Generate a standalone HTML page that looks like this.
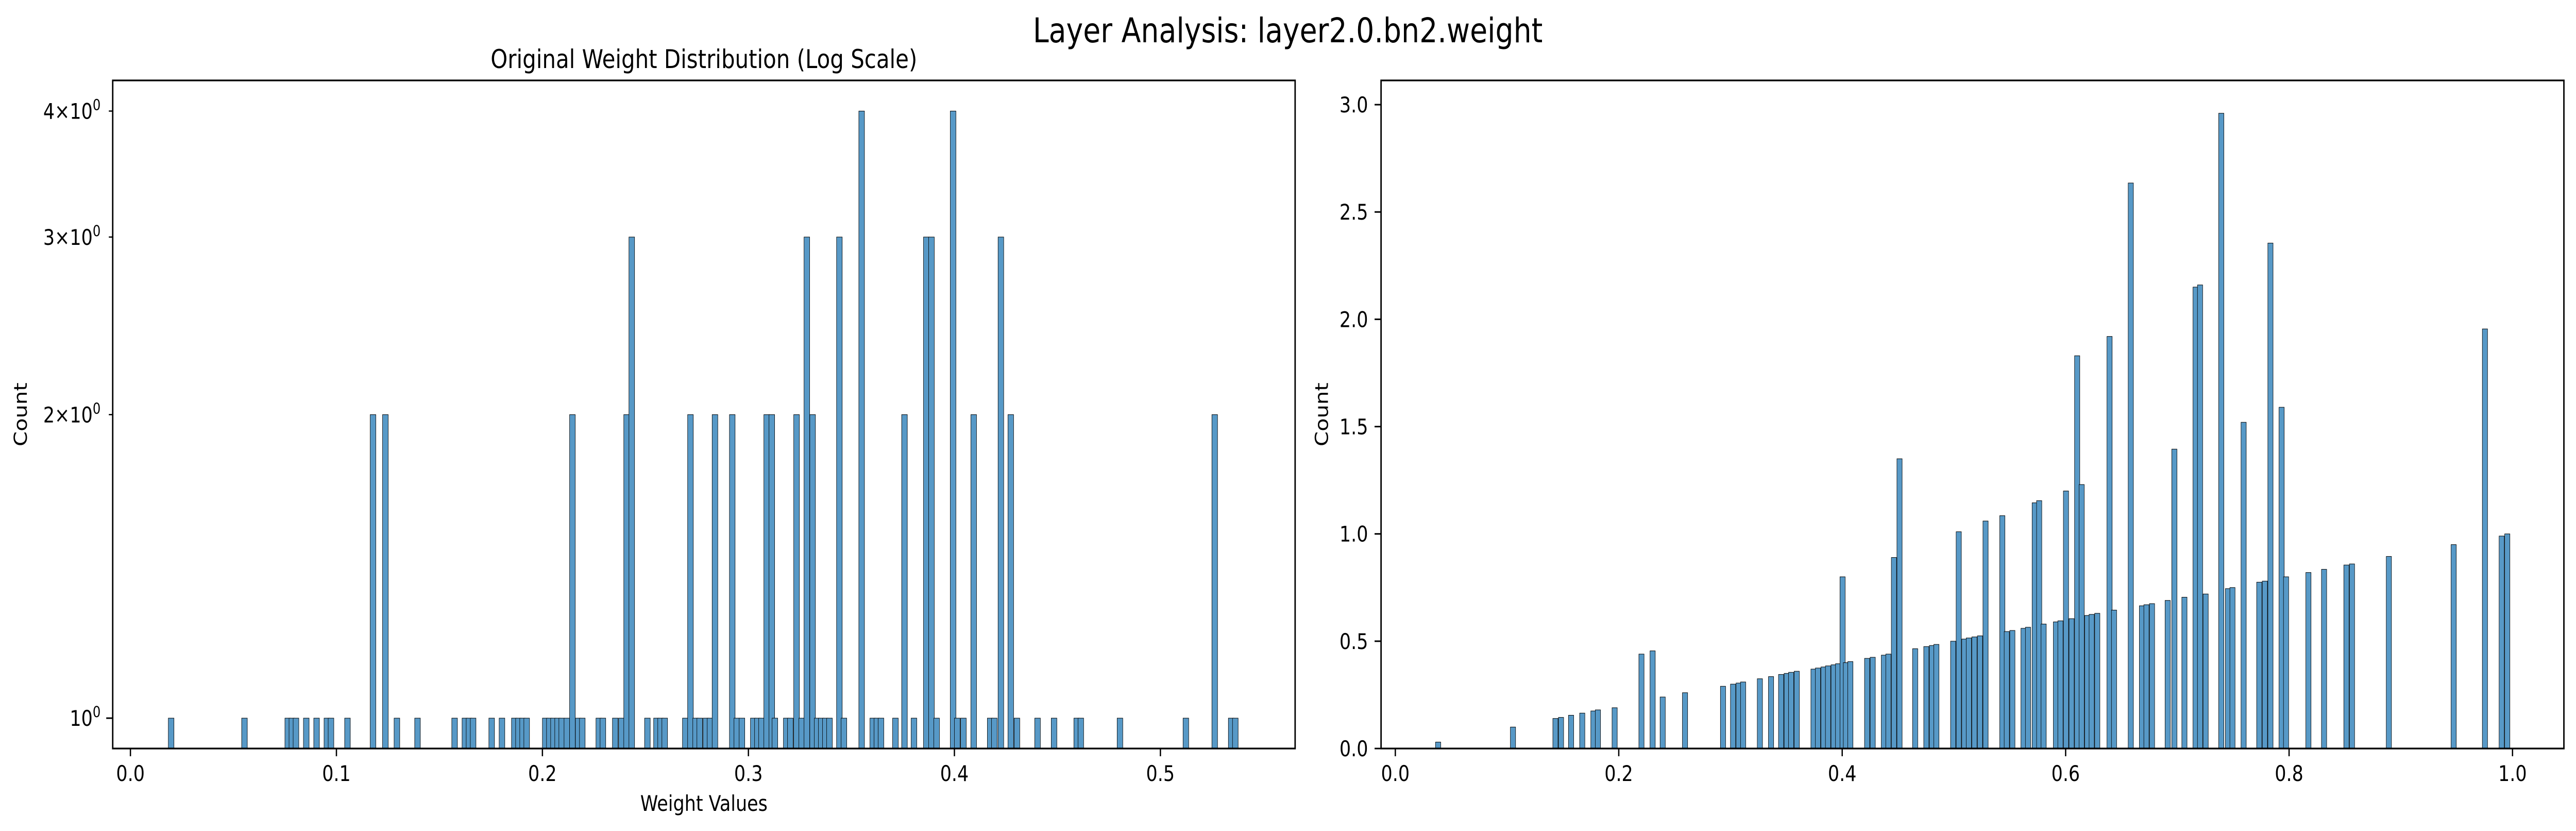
<!DOCTYPE html>
<html><head><meta charset="utf-8"><style>
html,body{margin:0;padding:0;background:#fff;overflow:hidden;width:100vw;height:100vh;}
svg{display:block;width:100vw;height:100vh;font-family:"DejaVu Sans","Liberation Sans",sans-serif;}
</style></head><body>
<svg id="fig" viewBox="0 0 5965 1612" preserveAspectRatio="none" xmlns="http://www.w3.org/2000/svg">
<rect width="5965" height="1612" fill="#fff"/>
<text x="2982" y="82" font-size="66" text-anchor="middle">Layer Analysis: layer2.0.bn2.weight</text>
<text x="1630" y="132" font-size="50" text-anchor="middle">Original Weight Distribution (Log Scale)</text>
<text x="1630" y="1573" font-size="41.7" text-anchor="middle">Weight Values</text>
<text transform="translate(62,804) rotate(-90)" font-size="41.7" text-anchor="middle">Count</text>
<text transform="translate(3075,804) rotate(-90)" font-size="41.7" text-anchor="middle">Count</text>
<g id="left"></g>
<g id="right"></g>
</svg>
<script>
// Left chart data (log scale)
const leftValues = [0.0184,0.054,0.075,0.077,0.079,0.084,0.089,0.094,0.096,0.104,0.1164,0.1224,0.128,0.138,0.156,0.161,0.163,0.165,0.174,0.179,0.185,0.187,0.189,0.191,0.2,0.202,0.204,0.206,0.208,0.2105,0.2132,0.216,0.218,0.226,0.228,0.234,0.237,0.2395,0.242,0.2496,0.254,0.256,0.258,0.268,0.2705,0.273,0.275,0.278,0.280,0.2824,0.2908,0.293,0.2955,0.301,0.303,0.305,0.3075,0.31,0.3115,0.317,0.319,0.322,0.3245,0.327,0.3298,0.332,0.334,0.336,0.338,0.3428,0.345,0.3536,0.359,0.361,0.363,0.37,0.3744,0.379,0.385,0.3875,0.39,0.398,0.4,0.403,0.408,0.416,0.418,0.4212,0.426,0.429,0.439,0.447,0.458,0.46,0.479,0.511,0.525,0.533,0.535];
const leftCounts = [1,1,1,1,1,1,1,1,1,1,2,2,1,1,1,1,1,1,1,1,1,1,1,1,1,1,1,1,1,1,2,1,1,1,1,1,1,2,3,1,1,1,1,1,2,1,1,1,1,2,2,1,1,1,1,1,2,2,1,1,1,2,1,3,2,1,1,1,1,3,1,4,1,1,1,1,2,1,3,3,1,4,1,1,2,1,1,3,2,1,1,1,1,1,1,1,2,1,1];
const leftXTicks = [0.0,0.1,0.2,0.3,0.4,0.5];
const leftXTickLabels = ["0.0","0.1","0.2","0.3","0.4","0.5"];
const leftYTicks = [1,2,3,4];
const leftYTickLabels = [["10","0"],["2×10","0"],["3×10","0"],["4×10","0"]];
// Right chart data
const rightValues = [0.036,0.103,0.141,0.146,0.155,0.165,0.175,0.179,0.194,0.218,0.228,0.237,0.257,0.291,0.300,0.305,0.309,0.324,0.334,0.343,0.348,0.352,0.357,0.372,0.376,0.381,0.385,0.390,0.394,0.398,0.401,0.405,0.420,0.425,0.435,0.439,0.444,0.449,0.463,0.473,0.478,0.482,0.497,0.502,0.507,0.511,0.516,0.521,0.526,0.541,0.545,0.550,0.560,0.564,0.570,0.574,0.578,0.589,0.593,0.598,0.603,0.608,0.612,0.617,0.621,0.626,0.637,0.641,0.656,0.666,0.670,0.675,0.689,0.695,0.704,0.714,0.718,0.723,0.737,0.743,0.747,0.757,0.771,0.776,0.781,0.791,0.795,0.815,0.829,0.849,0.854,0.887,0.945,0.973,0.988,0.993];
const rightCounts = [0.03,0.10,0.14,0.145,0.155,0.165,0.175,0.18,0.19,0.44,0.455,0.24,0.26,0.29,0.30,0.305,0.31,0.325,0.335,0.345,0.35,0.355,0.36,0.37,0.375,0.38,0.385,0.39,0.395,0.80,0.40,0.405,0.42,0.425,0.435,0.44,0.89,1.35,0.465,0.475,0.48,0.485,0.50,1.01,0.51,0.515,0.52,0.525,1.06,1.085,0.545,0.55,0.56,0.565,1.145,1.155,0.58,0.59,0.595,1.20,0.605,1.83,1.23,0.62,0.625,0.63,1.92,0.645,2.635,0.665,0.67,0.675,0.69,1.395,0.705,2.15,2.16,0.72,2.96,0.745,0.75,1.52,0.775,0.78,2.355,1.59,0.80,0.82,0.835,0.855,0.86,0.895,0.95,1.955,0.99,1.00];
const rightXTicks = [0.0,0.2,0.4,0.6,0.8,1.0];
const rightXTickLabels = ["0.0","0.2","0.4","0.6","0.8","1.0"];
const rightYTicks = [0.0,0.5,1.0,1.5,2.0,2.5,3.0];
const rightYTickLabels = ["0.0","0.5","1.0","1.5","2.0","2.5","3.0"];

const NS = "http://www.w3.org/2000/svg";
function mk(tag, attrs, parent){const e=document.createElementNS(NS,tag);for(const k in attrs)e.setAttribute(k,attrs[k]);parent.appendChild(e);return e;}

// Left axes
const L = {x0:261,x1:2999,y0:156,y1:1452,xmin:-0.0086,xmax:0.5654,lmin:Math.log10(0.933),lmax:Math.log10(4.29),bw:0.00273};
function lx(v){return L.x0+(v-L.xmin)/(L.xmax-L.xmin)*(L.x1-L.x0);}
function ly(v){return L.y1-(Math.log10(v)-L.lmin)/(L.lmax-L.lmin)*(L.y1-L.y0);}
const gl = document.getElementById('left');
for(let i=0;i<leftValues.length;i++){
  const xa=lx(leftValues[i]), xb=lx(leftValues[i]+L.bw), yt=ly(leftCounts[i]);
  const r=mk('rect',{x:xa,y:yt,width:xb-xa,height:L.y1-yt,fill:'#5799c7',stroke:'#000','stroke-width':1},gl);
  
  
}
for(let i=0;i<leftXTicks.length;i++){
  const x=lx(leftXTicks[i]);
  mk('line',{x1:x,x2:x,y1:L.y1,y2:L.y1+15,stroke:'#000','stroke-width':3},gl);
  const t=mk('text',{x:x,y:1515,'font-size':41.7,'text-anchor':'middle'},gl);
  t.textContent=leftXTickLabels[i];
  
  
}
for(let i=0;i<leftYTicks.length;i++){
  const y=ly(leftYTicks[i]);
  const len = i===0?15:9;
  mk('line',{x1:L.x0-len,x2:L.x0,y1:y,y2:y,stroke:'#000','stroke-width':i===0?3:2.5},gl);
  const t=mk('text',{x:233,y:y+15,'font-size':41.7,'text-anchor':'end'},gl);
  
  
  const a=document.createElementNS(NS,'tspan');a.textContent=leftYTickLabels[i][0];t.appendChild(a);
  const s=document.createElementNS(NS,'tspan');s.setAttribute('dy','-17');s.setAttribute('font-size','29');s.textContent=leftYTickLabels[i][1];t.appendChild(s);
}
const lf=mk('rect',{x:L.x0,y:L.y0,width:L.x1-L.x0,height:L.y1-L.y0,fill:'none',stroke:'#000','stroke-width':3.3},gl);



// Right axes
const R = {x0:3198,x1:5937,y0:156,y1:1452,xmin:-0.01276,xmax:1.0460,ymin:0,ymax:3.113,bw:0.00464};
function rx(v){return R.x0+(v-R.xmin)/(R.xmax-R.xmin)*(R.x1-R.x0);}
function ry(v){return R.y1-(v-R.ymin)/(R.ymax-R.ymin)*(R.y1-R.y0);}
const gr = document.getElementById('right');
for(let i=0;i<rightValues.length;i++){
  const xa=rx(rightValues[i]), xb=rx(rightValues[i]+R.bw), yt=ry(rightCounts[i]);
  const r=mk('rect',{x:xa,y:yt,width:xb-xa,height:R.y1-yt,fill:'#5799c7',stroke:'#000','stroke-width':1},gr);
  
  
}
for(let i=0;i<rightXTicks.length;i++){
  const x=rx(rightXTicks[i]);
  mk('line',{x1:x,x2:x,y1:R.y1,y2:R.y1+15,stroke:'#000','stroke-width':3},gr);
  const t=mk('text',{x:x,y:1515,'font-size':41.7,'text-anchor':'middle'},gr);
  t.textContent=rightXTickLabels[i];
  
  
}
for(let i=0;i<rightYTicks.length;i++){
  const y=ry(rightYTicks[i]);
  mk('line',{x1:R.x0-15,x2:R.x0,y1:y,y2:y,stroke:'#000','stroke-width':3},gr);
  const t=mk('text',{x:3168,y:y+15,'font-size':41.7,'text-anchor':'end'},gr);
  t.textContent=rightYTickLabels[i];
  
  
}
const rf=mk('rect',{x:R.x0,y:R.y0,width:R.x1-R.x0,height:R.y1-R.y0,fill:'none',stroke:'#000','stroke-width':3.3},gr);


</script>
</body></html>
